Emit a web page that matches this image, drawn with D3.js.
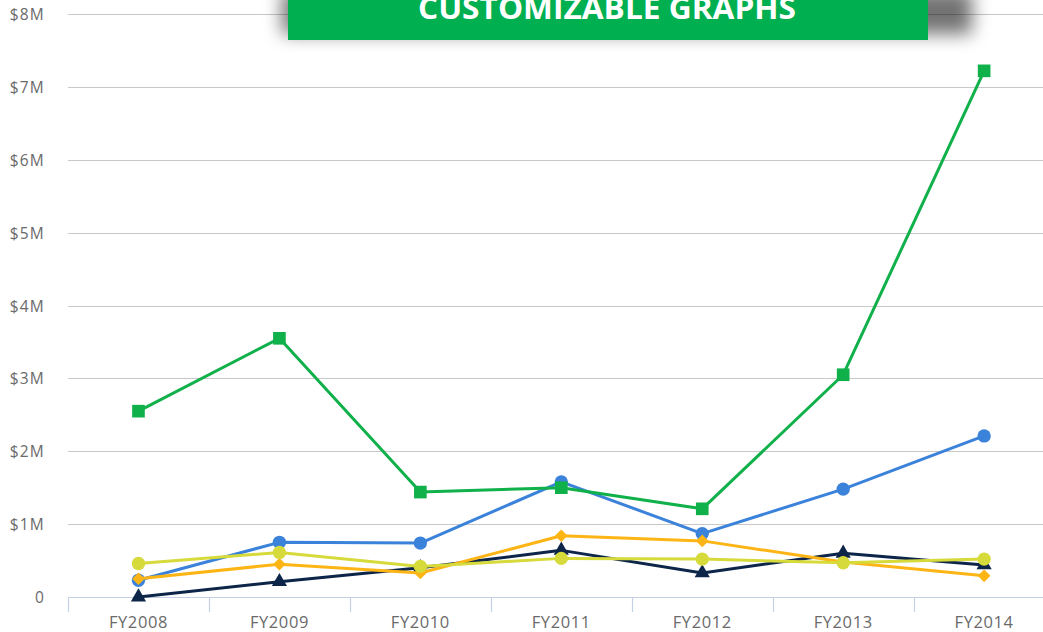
<!DOCTYPE html>
<html>
<head>
<meta charset="utf-8">
<script src="https://cdn.jsdelivr.net/npm/d3@7"></script>
<style>
  html, body { margin: 0; padding: 0; background: #fff; }
  svg { display: block; }
  text { font-family: "Open Sans", "DejaVu Sans", sans-serif; }
</style>
</head>
<body>
<svg id="chart" width="1043" height="632"></svg>
<script>
const categories = ["FY2008", "FY2009", "FY2010", "FY2011", "FY2012", "FY2013", "FY2014"];
const yTicks = [0, 1, 2, 3, 4, 5, 6, 7, 8];
const yTickLabels = ["0", "$1M", "$2M", "$3M", "$4M", "$5M", "$6M", "$7M", "$8M"];
const titleText = "CUSTOMIZABLE GRAPHS";

// values in $M
const blueValues   = [0.23, 0.75, 0.74, 1.58, 0.87, 1.48, 2.21];
const greenValues  = [2.55, 3.55, 1.44, 1.50, 1.21, 3.05, 7.22];
const navyValues   = [0.00, 0.21, 0.40, 0.64, 0.33, 0.60, 0.44];
const orangeValues = [0.25, 0.45, 0.33, 0.84, 0.77, 0.48, 0.29];
const yellowValues = [0.46, 0.61, 0.42, 0.53, 0.52, 0.47, 0.52];

const series = [
  { name: "blue",   values: blueValues,   color: "#3a82da", marker: "circle" },
  { name: "green",  values: greenValues,  color: "#10b04a", marker: "square" },
  { name: "navy",   values: navyValues,   color: "#0c2548", marker: "triangle" },
  { name: "orange", values: orangeValues, color: "#fdb515", marker: "diamond" },
  { name: "yellow", values: yellowValues, color: "#d6da3a", marker: "circle" }
];

const svg = d3.select("#chart");
const plotLeft = 68, plotRight = 1054.6, plotTop = 14, plotBottom = 597;

const x = d3.scaleBand().domain(categories).range([plotLeft, plotRight]).padding(0);
const y = d3.scaleLinear().domain([0, 8]).range([plotBottom, plotTop]);
const cx = c => x(c) + x.bandwidth() / 2;

// gridlines
svg.append("g").selectAll("line")
  .data(yTicks.filter(d => d > 0))
  .join("line")
  .attr("x1", plotLeft).attr("x2", 1043)
  .attr("y1", d => Math.round(y(d)) + 0.5).attr("y2", d => Math.round(y(d)) + 0.5)
  .attr("stroke", "#c8c8c8").attr("stroke-width", 1);

// y labels
svg.append("g").selectAll("text")
  .data(yTicks)
  .join("text")
  .attr("x", 45)
  .attr("y", d => y(d) + 6)
  .attr("text-anchor", "end")
  .attr("font-size", 15.5)
  .attr("letter-spacing", 1.2)
  .attr("fill", "#6a6a6a")
  .text((d, i) => yTickLabels[i]);

// x axis
const xa = svg.append("g");
xa.append("line")
  .attr("x1", plotLeft).attr("x2", 1043)
  .attr("y1", plotBottom + 0.5).attr("y2", plotBottom + 0.5)
  .attr("stroke", "#c4d0e6").attr("stroke-width", 1.2);
xa.selectAll("line.tick")
  .data(categories)
  .join("line").attr("class", "tick")
  .attr("x1", d => Math.round(x(d)) + 0.5).attr("x2", d => Math.round(x(d)) + 0.5)
  .attr("y1", plotBottom).attr("y2", plotBottom + 15)
  .attr("stroke", "#c4d0e6").attr("stroke-width", 1.2);
xa.selectAll("text")
  .data(categories)
  .join("text")
  .attr("x", d => cx(d))
  .attr("y", 628)
  .attr("text-anchor", "middle")
  .attr("font-size", 16.5)
  .attr("letter-spacing", 0.6)
  .attr("fill", "#6a6a6a")
  .text(d => d);

// lines
const line = d3.line().x((d, i) => cx(categories[i])).y(d => y(d));
const symbolFor = {
  circle: { gen: d3.symbol().type(d3.symbolCircle).size(140), rot: 0 },
  square: { gen: d3.symbol().type(d3.symbolSquare).size(160), rot: 0 },
  triangle: { gen: d3.symbol().type(d3.symbolTriangle).size(100), rot: 0 },
  diamond: { gen: d3.symbol().type(d3.symbolSquare).size(80), rot: 45 }
};

series.forEach(s => {
  const g = svg.append("g");
  g.append("path")
    .attr("d", line(s.values))
    .attr("fill", "none")
    .attr("stroke", s.color)
    .attr("stroke-width", 3)
    .attr("stroke-linejoin", "round");
  const sym = symbolFor[s.marker];
  g.selectAll("path.m")
    .data(s.values)
    .join("path").attr("class", "m")
    .attr("transform", (d, i) => `translate(${cx(categories[i])},${y(d)}) rotate(${sym.rot})`)
    .attr("d", sym.gen())
    .attr("fill", s.color);
});

// banner with shadow
const defs = svg.append("defs");
const f = defs.append("filter").attr("id", "blur")
  .attr("x", "-20%").attr("y", "-100%").attr("width", "140%").attr("height", "300%");
f.append("feGaussianBlur").attr("stdDeviation", 9);

const banner = svg.append("g");
banner.append("rect")
  .attr("x", 282).attr("y", -10).attr("width", 690).attr("height", 44)
  .attr("fill", "#000").attr("opacity", 0.55)
  .attr("filter", "url(#blur)");
banner.append("rect")
  .attr("x", 288).attr("y", 0).attr("width", 640).attr("height", 40)
  .attr("fill", "#00b050");
banner.append("text")
  .attr("x", 607).attr("y", 19)
  .attr("text-anchor", "middle")
  .attr("font-size", 31)
  .attr("font-weight", "bold")
  .attr("fill", "#fff")
  .attr("textLength", 378)
  .attr("lengthAdjust", "spacingAndGlyphs")
  .text(titleText);
</script>
</body>
</html>
